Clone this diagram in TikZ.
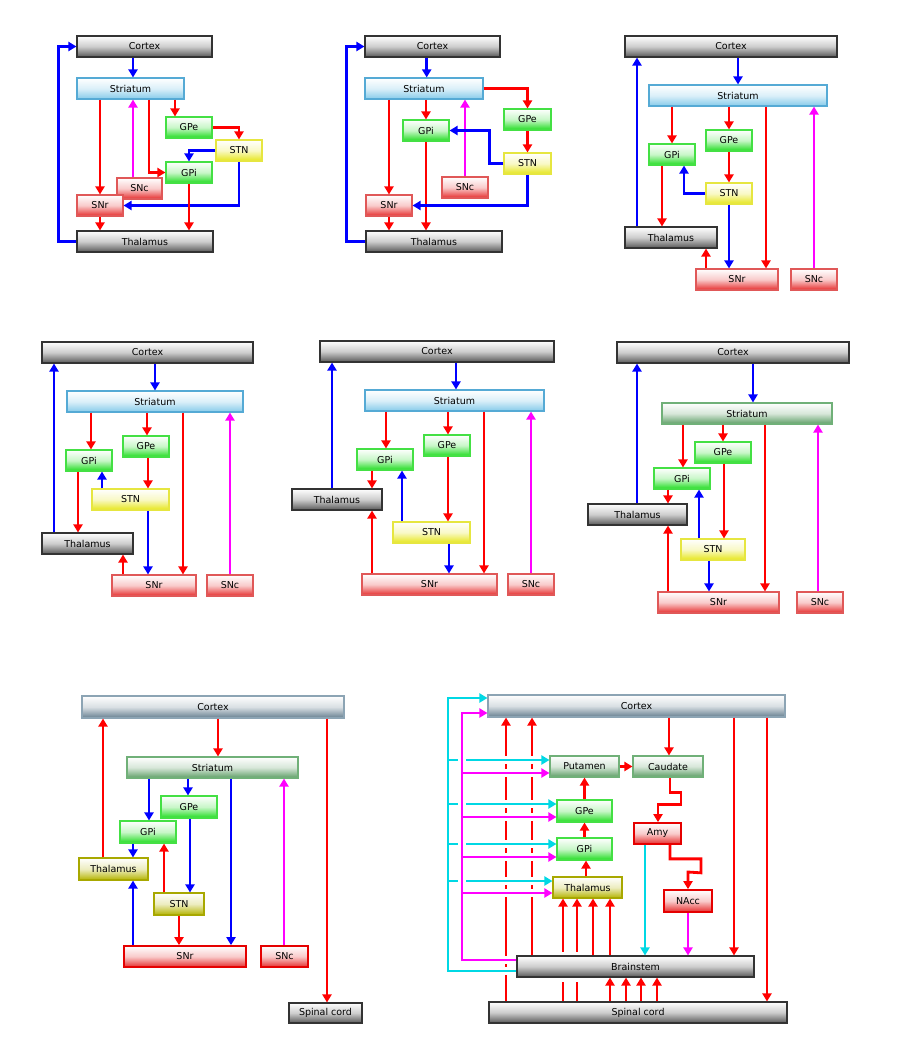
\documentclass[tikz,border=0pt]{standalone}
\usepackage{fontspec}
\setmainfont{DejaVu Sans}
\usepackage{xcolor}
\usepackage{tikz}
\usetikzlibrary{arrows.meta, calc}
\definecolor{grayD}{HTML}{585858}
\definecolor{grayB}{HTML}{333333}
\definecolor{blueD}{HTML}{86CBEA}
\definecolor{blueB}{HTML}{55AAD5}
\definecolor{greenD}{HTML}{22DD22}
\definecolor{greenB}{HTML}{44E044}
\definecolor{yellowD}{HTML}{E6E61A}
\definecolor{yellowB}{HTML}{E6E640}
\definecolor{redD}{HTML}{E62E2E}
\definecolor{redB}{HTML}{E05858}
\definecolor{oliveD}{HTML}{B4B400}
\definecolor{oliveB}{HTML}{A8A800}
\definecolor{sageD}{HTML}{5E9E66}
\definecolor{sageB}{HTML}{70B078}
\definecolor{slateD}{HTML}{667F90}
\definecolor{slateB}{HTML}{8CA4B4}
\definecolor{arrcyan}{HTML}{00D8E4}
\definecolor{arrmag}{HTML}{FF00FF}
\tikzset{
  box/.style={rectangle, line width=1.1pt, inner sep=0pt, minimum height=21pt,
              font=\fontsize{9.5}{11}\selectfont},
  graybox/.style={box, draw=grayB, top color=white, bottom color=grayD, middle color=grayD!30!white},
  slatebox/.style={box, draw=slateB, top color=white, bottom color=slateD, middle color=slateD!25!white},
  bluebox/.style={box, draw=blueB, top color=white, bottom color=blueD, middle color=blueD!30!white},
  greenbox/.style={box, draw=greenB, top color=white, bottom color=greenD, middle color=greenD!25!white},
  sagebox/.style={box, draw=sageB, top color=white, bottom color=sageD, middle color=sageD!25!white},
  yellowbox/.style={box, draw=yellowB, top color=white, bottom color=yellowD, middle color=yellowD!25!white},
  olivebox/.style={box, draw=oliveB, top color=white, bottom color=oliveD, middle color=oliveD!25!white},
  redbox/.style={box, draw=redB, top color=white, bottom color=redD, middle color=redD!25!white},
  redthick/.style={redbox, draw=red!90!black, line width=1.7pt},
  arr/.style={line width=2.8pt, -{Triangle[width=9pt,length=8pt]}},
  redarr/.style={arr, red},
  bluearr/.style={arr, blue},
  magarr/.style={arr, arrmag},
  cyanarr/.style={arr, arrcyan},
  halo/.style={preaction={draw=white, line width=7.5pt, arrows=-}},
  halos/.style={preaction={draw=white, line width=7.5pt, arrows=-, shorten <=3pt}},
}
\begin{document}
\begin{tikzpicture}[x=1pt, y=-1pt]
\useasboundingbox (0,0) rectangle (900,1060);

% first row, left
\node[graybox, minimum width=135pt] (ctxA) at (144.5,46.5) {Cortex};
\node[bluebox, minimum width=107pt] (strA) at (130.5,88.5) {Striatum};
\node[greenbox, minimum width=46pt] (gpeA) at (189,127.5) {GPe};
\node[yellowbox, minimum width=46pt] (stnA) at (239,150.5) {STN};
\node[greenbox, minimum width=46pt] (gpiA) at (189,172.5) {GPi};
\node[redbox, minimum width=45pt] (sncA) at (139.5,188.5) {SNc};
\node[redbox, minimum width=46pt] (snrA) at (100,205.5) {SNr};
\node[graybox, minimum width=136pt] (thaA) at (145,241.5) {Thalamus};

\draw[bluearr] (ctxA.south -| 133,0) -- (strA.north -| 133,0);
\draw[bluearr] (thaA.west) -- ++(-18,0) |- (ctxA.west);
\draw[redarr] (strA.south -| snrA.north) -- (snrA.north);
\draw[magarr] (sncA.north -| 133,0) -- (strA.south -| 133,0);
\draw[redarr] (strA.south -| 149,0) |- (gpiA.west);
\draw[redarr] (strA.south -| 175,0) -- (gpeA.north -| 175,0);
\draw[redarr] (gpeA.east) -| (stnA.north);
\draw[bluearr] (stnA.west) -| (gpiA.north);
\draw[bluearr] (stnA.south) |- (snrA.east);
\draw[redarr] (snrA.south) -- (snrA.south |- thaA.north);
\draw[redarr] (gpiA.south) -- (gpiA.south |- thaA.north);

% first row, middle
\node[graybox, minimum width=135pt] (ctxB) at (432.5,46.5) {Cortex};
\node[bluebox, minimum width=118pt] (strB) at (424,88.5) {Striatum};
\node[greenbox, minimum width=46pt] (gpiB) at (426,130.5) {GPi};
\node[greenbox, minimum width=47pt] (gpeB) at (527.5,119.5) {GPe};
\node[yellowbox, minimum width=47pt] (stnB) at (527.5,163.5) {STN};
\node[redbox, minimum width=46pt] (sncB) at (465,187.5) {SNc};
\node[redbox, minimum width=46pt] (snrB) at (389,205.5) {SNr};
\node[graybox, minimum width=136pt] (thaB) at (434,241.5) {Thalamus};

\draw[bluearr] (ctxB.south -| 426.7,0) -- (strB.north -| 426.7,0);
\draw[bluearr] (thaB.west) -- ++(-19,0) |- (ctxB.west);
\draw[redarr] (strB.south -| snrB.north) -- (snrB.north);
\draw[redarr] (strB.south -| gpiB.north) -- (gpiB.north);
\draw[redarr] (gpiB.south) -- (gpiB.south |- thaB.north);
\draw[magarr] (sncB.north) -- (sncB.north |- strB.south);
\draw[redarr] (strB.east) -| (gpeB.north);
\draw[redarr] (gpeB.south) -- (stnB.north);
\draw[bluearr] (stnB.west) -- ++(-14,0) |- (gpiB.east);
\draw[bluearr] (stnB.south) |- (snrB.east);
\draw[redarr] (snrB.south) -- (snrB.south |- thaB.north);

% first row, right
\node[graybox, minimum width=212pt] (ctxC) at (731,46.5) {Cortex};
\node[bluebox, minimum width=178pt] (strC) at (738,95.5) {Striatum};
\node[greenbox, minimum width=46pt] (gpeC) at (729,140.5) {GPe};
\node[greenbox, minimum width=46pt] (gpiC) at (672,154.5) {GPi};
\node[yellowbox, minimum width=46pt] (stnC) at (729,193.5) {STN};
\node[graybox, minimum width=92pt] (thaC) at (671,237.5) {Thalamus};
\node[redbox, minimum width=82pt] (snrC) at (737,279.5) {SNr};
\node[redbox, minimum width=46pt] (sncC) at (814,279.5) {SNc};

\draw[bluearr] (ctxC.south -| strC.north) -- (strC.north);
\draw[bluearr] (thaC.north -| 637,0) -- (ctxC.south -| 637,0);
\draw[redarr] (strC.south -| gpiC.north) -- (gpiC.north);
\draw[redarr] (strC.south -| gpeC.north) -- (gpeC.north);
\draw[redarr] (strC.south -| 766,0) -- (snrC.north -| 766,0);
\draw[magarr] (sncC.north) -- (sncC.north |- strC.south);
\draw[redarr] (gpeC.south) -- (stnC.north);
\draw[bluearr] (stnC.west) -| ([xshift=12pt]gpiC.south);
\draw[redarr] (gpiC.south -| 662,0) -- (thaC.north -| 662,0);
\draw[bluearr] (stnC.south) -- (stnC.south |- snrC.north);
\draw[redarr] (snrC.north -| 706,0) -- (thaC.south -| 706,0);

% second row, left
\node[graybox, minimum width=211pt] (ctxD) at (147.5,352.5) {Cortex};
\node[bluebox, minimum width=176pt] (strD) at (155,401.5) {Striatum};
\node[greenbox, minimum width=46pt] (gpeD) at (146,446.5) {GPe};
\node[greenbox, minimum width=46pt] (gpiD) at (89,460.5) {GPi};
\node[yellowbox, minimum width=77pt] (stnD) at (130.5,499.5) {STN};
\node[graybox, minimum width=91pt] (thaD) at (87.5,543.5) {Thalamus};
\node[redbox, minimum width=84pt] (snrD) at (154,585.5) {SNr};
\node[redbox, minimum width=46pt] (sncD) at (230,585.5) {SNc};

\draw[bluearr] (ctxD.south -| strD.north) -- (strD.north);
\draw[bluearr] (thaD.north -| 54,0) -- (ctxD.south -| 54,0);
\draw[redarr] (strD.south -| 91,0) -- (gpiD.north -| 91,0);
\draw[redarr] (strD.south -| 147,0) -- (gpeD.north -| 147,0);
\draw[redarr] (strD.south -| 183,0) -- (snrD.north -| 183,0);
\draw[magarr] (sncD.north) -- (sncD.north |- strD.south);
\draw[redarr] (gpeD.south -| 148,0) -- (stnD.north -| 148,0);
\draw[bluearr] (stnD.north -| 102,0) -- (gpiD.south -| 102,0);
\draw[redarr] (gpiD.south -| 78,0) -- (thaD.north -| 78,0);
\draw[bluearr] (stnD.south -| 148,0) -- (snrD.north -| 148,0);
\draw[redarr] (snrD.north -| 123,0) -- (thaD.south -| 123,0);

% second row, middle
\node[graybox, minimum width=234pt] (ctxE) at (437,351.5) {Cortex};
\node[bluebox, minimum width=179pt] (strE) at (454.5,400.5) {Striatum};
\node[greenbox, minimum width=46pt] (gpeE) at (447,445.5) {GPe};
\node[greenbox, minimum width=56pt] (gpiE) at (385,459.5) {GPi};
\node[graybox, minimum width=90pt] (thaE) at (337,499.5) {Thalamus};
\node[yellowbox, minimum width=77pt] (stnE) at (431.5,532.5) {STN};
\node[redbox, minimum width=135pt] (snrE) at (429.5,584.5) {SNr};
\node[redbox, minimum width=46pt] (sncE) at (531,584.5) {SNc};

\draw[bluearr] (ctxE.south -| 456,0) -- (strE.north -| 456,0);
\draw[bluearr] (thaE.north -| 332,0) -- (ctxE.south -| 332,0);
\draw[redarr] (strE.south -| 386,0) -- (gpiE.north -| 386,0);
\draw[redarr] (strE.south -| 448,0) -- (gpeE.north -| 448,0);
\draw[redarr] (strE.south -| 484,0) -- (snrE.north -| 484,0);
\draw[magarr] (sncE.north) -- (sncE.north |- strE.south);
\draw[redarr] (gpeE.south -| 448,0) -- (stnE.north -| 448,0);
\draw[bluearr] (stnE.north -| 402,0) -- (gpiE.south -| 402,0);
\draw[redarr] (gpiE.south -| 372,0) -- (thaE.north -| 372,0);
\draw[bluearr] (stnE.south -| 449,0) -- (snrE.north -| 449,0);
\draw[redarr] (snrE.north -| 372,0) -- (thaE.south -| 372,0);

% second row, right
\node[graybox, minimum width=232pt] (ctxF) at (733,352.5) {Cortex};
\node[sagebox, minimum width=170pt] (strF) at (747,413.5) {Striatum};
\node[greenbox, minimum width=56pt] (gpeF) at (723,452.5) {GPe};
\node[greenbox, minimum width=56pt] (gpiF) at (682,478.5) {GPi};
\node[graybox, minimum width=99pt] (thaF) at (637.5,514.5) {Thalamus};
\node[yellowbox, minimum width=64pt] (stnF) at (713,549.5) {STN};
\node[redbox, minimum width=121pt] (snrF) at (718.5,602.5) {SNr};
\node[redbox, minimum width=46pt] (sncF) at (820,602.5) {SNc};

\draw[bluearr] (ctxF.south -| 753,0) -- (strF.north -| 753,0);
\draw[bluearr] (thaF.north -| 637,0) -- (ctxF.south -| 637,0);
\draw[redarr] (strF.south -| 683,0) -- (gpiF.north -| 683,0);
\draw[redarr] (strF.south -| 723,0) -- (gpeF.north -| 723,0);
\draw[redarr] (strF.south -| 765,0) -- (snrF.north -| 765,0);
\draw[magarr] (sncF.north -| 818,0) -- (strF.south -| 818,0);
\draw[redarr] (gpeF.south -| 724,0) -- (stnF.north -| 724,0);
\draw[bluearr] (stnF.north -| 699,0) -- (gpiF.south -| 699,0);
\draw[redarr] (gpiF.south -| 668,0) -- (thaF.north -| 668,0);
\draw[bluearr] (stnF.south -| 709,0) -- (snrF.north -| 709,0);
\draw[redarr] (snrF.north -| 668,0) -- (thaF.south -| 668,0);

% third row, left
\node[slatebox, minimum width=262pt, minimum height=22pt] (ctxG) at (213,707) {Cortex};
\node[sagebox, minimum width=171pt] (strG) at (212.5,767.5) {Striatum};
\node[greenbox, minimum width=56pt, minimum height=22pt] (gpeG) at (189,807) {GPe};
\node[greenbox, minimum width=56pt, minimum height=22pt] (gpiG) at (148,832) {GPi};
\node[olivebox, minimum width=69pt, minimum height=22pt] (thaG) at (113.5,869) {Thalamus};
\node[olivebox, minimum width=50pt, minimum height=22pt] (stnG) at (179,904) {STN};
\node[redthick, minimum width=122pt] (snrG) at (185,956.5) {SNr};
\node[redthick, minimum width=47pt] (sncG) at (284.5,956.5) {SNc};
\node[graybox, minimum width=73pt, minimum height=20pt] (spiG) at (325.5,1013) {Spinal cord};

\draw[redarr] (ctxG.south -| 218,0) -- (strG.north -| 218,0);
\draw[redarr] (thaG.north -| 103,0) -- (ctxG.south -| 103,0);
\draw[redarr] (ctxG.south -| 327,0) -- (spiG.north -| 327,0);
\draw[bluearr] (strG.south -| 149,0) -- (gpiG.north -| 149,0);
\draw[bluearr] (strG.south -| 188,0) -- (gpeG.north -| 188,0);
\draw[bluearr] (strG.south -| 231,0) -- (snrG.north -| 231,0);
\draw[magarr] (sncG.north -| 284,0) -- (strG.south -| 284,0);
\draw[bluearr] (gpeG.south -| 190,0) -- (stnG.north -| 190,0);
\draw[redarr] (stnG.north -| 164,0) -- (gpiG.south -| 164,0);
\draw[bluearr] (gpiG.south -| 133,0) -- (thaG.north -| 133,0);
\draw[bluearr] (snrG.north -| 133,0) -- (thaG.south -| 133,0);
\draw[redarr] (stnG.south -| 179,0) -- (snrG.north -| 179,0);

% third row, right
\node[slatebox, minimum width=297pt, minimum height=22pt] (ctxH) at (636.5,706) {Cortex};
\node[sagebox, minimum width=69pt] (putH) at (584.5,766.5) {Putamen};
\node[sagebox, minimum width=70pt] (cauH) at (668,766.5) {Caudate};
\node[greenbox, minimum width=55pt, minimum height=22pt] (gpeH) at (584.5,811) {GPe};
\node[redthick, minimum width=47pt] (amyH) at (657.5,833.5) {Amy};
\node[greenbox, minimum width=55pt, minimum height=22pt] (gpiH) at (584.5,849) {GPi};
\node[olivebox, minimum width=69pt] (thaH) at (587.5,887.5) {Thalamus};
\node[redthick, minimum width=48pt, minimum height=22pt] (nacH) at (688,901) {NAcc};
\node[graybox, minimum width=298pt] (spiH) at (638,1012.5) {Spinal cord};

\draw[redarr] (spiH.north -| 563,0) -- (thaH.south -| 563,0);
\draw[redarr] (spiH.north -| 577,0) -- (thaH.south -| 577,0);
\node[graybox, minimum width=237pt, preaction={draw=white, line width=9pt}] (brsH) at (635.5,966.5) {Brainstem};

\draw[redarr] (spiH.north -| 506,0) -- (ctxH.south -| 506,0);
\draw[redarr] (brsH.north -| 532,0) -- (ctxH.south -| 532,0);
\draw[redarr] (ctxH.south -| 669,0) -- (cauH.north -| 669,0);
\draw[redarr] (putH.east) -- (cauH.west);
\draw[redarr] (gpeH.north) -- (putH.south);
\draw[redarr] (gpiH.north) -- (gpeH.south);
\draw[redarr] (thaH.north -| 586,0) -- (gpiH.south -| 586,0);
\draw[redarr] (cauH.south -| 670,0) -- ++(0,15) -- ++(11,0) -- ++(0,12) -- ++(-23,0) -- (amyH.north -| 658,0);
\draw[redarr] (amyH.south -| 670,0) -- ++(0,14) -- ++(31,0) -- ++(0,14) -- (nacH.north |- 0,872) -- (nacH.north);
\draw[cyanarr] (amyH.south -| 645,0) -- (brsH.north -| 645,0);
\draw[magarr] (nacH.south) -- (nacH.south |- brsH.north);
\draw[redarr] (ctxH.south -| 734,0) -- (brsH.north -| 734,0);
\draw[redarr] (ctxH.south -| 767,0) -- (spiH.north -| 767,0);
\draw[redarr] (brsH.north -| 593,0) -- (thaH.south -| 593,0);
\draw[redarr] (brsH.north -| 610,0) -- (thaH.south -| 610,0);
\foreach \x in {610,626,641,657}
  \draw[redarr] (spiH.north -| \x,0) -- (brsH.south -| \x,0);

\draw[cyanarr, halo] (brsH.west |- 0,971) -| (448,698) -- (ctxH.west |- 0,698);
\draw[cyanarr, halos] (448,760) -- (putH.west |- 0,760);
\draw[cyanarr, halos] (448,804) -- (gpeH.west |- 0,804);
\draw[cyanarr, halos] (448,844) -- (gpiH.west |- 0,844);
\draw[cyanarr, halos] (448,881) -- (thaH.west |- 0,881);
\draw[magarr, halo] (brsH.west |- 0,960) -| (462,713) -- (ctxH.west |- 0,713);
\draw[magarr, halos] (462,773) -- (putH.west |- 0,773);
\draw[magarr, halos] (462,817) -- (gpeH.west |- 0,817);
\draw[magarr, halos] (462,857) -- (gpiH.west |- 0,857);
\draw[magarr, halos] (462,893) -- (thaH.west |- 0,893);
\end{tikzpicture}
\end{document}
